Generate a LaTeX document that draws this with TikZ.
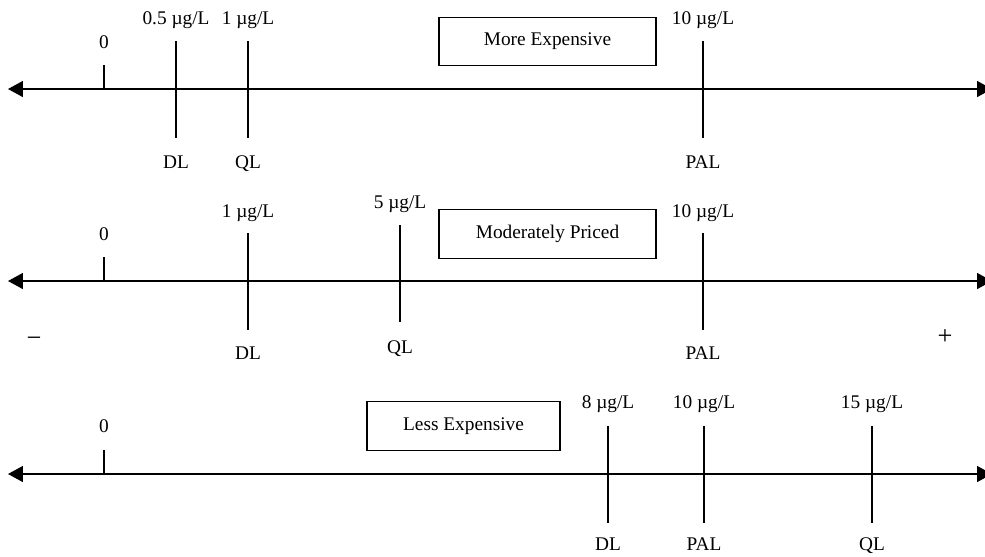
\documentclass[tikz,border=0pt]{standalone}
\usepackage{fontspec}
\setmainfont{Liberation Serif}
\usetikzlibrary{arrows.meta}
\tikzset{
  axisline/.style={{Triangle[length=0.3cm,width=0.32cm]}-{Triangle[length=0.3cm,width=0.32cm]}, line width=0.9pt},
  tickline/.style={line width=1pt},
  pricebox/.style={draw, line width=0.8pt, inner sep=0pt, minimum height=0.97cm, font=\fontsize{11}{13}\selectfont},
  lbl/.style={anchor=base, inner sep=0pt, font=\fontsize{11}{13}\selectfont},
  signlbl/.style={anchor=center, inner sep=0pt, font=\fontsize{15}{17}\selectfont}
}
\begin{document}
\begin{tikzpicture}[x=0.02cm, y=-0.02cm]
    \useasboundingbox (0,0) rectangle (985,556);

    % more expensive
    \draw[axisline] (8,89) -- (992,89);
    \draw[tickline] (104,65) -- (104,89);
    \draw[tickline] (176,41) -- (176,138);
    \draw[tickline] (248,41) -- (248,138);
    \draw[tickline] (703,41) -- (703,138);
    \node[lbl] (zeroA) at (104,48) {0};
    \node[lbl] (dlvalA) at (176,24) {0.5 µg/L};
    \node[lbl] (qlvalA) at (248,24) {1 µg/L};
    \node[lbl] (palvalA) at (703,24) {10 µg/L};
    \node[lbl] (dlA) at (176,168) {DL};
    \node[lbl] (qlA) at (248,168) {QL};
    \node[lbl] (palA) at (703,168) {PAL};
    \node[pricebox, minimum width=4.34cm] (boxA) at (547.5,41.5) {More Expensive};

    % moderately priced
    \draw[axisline] (8,281) -- (992,281);
    \draw[tickline] (104,257) -- (104,281);
    \draw[tickline] (248,233) -- (248,330);
    \draw[tickline] (400,225) -- (400,322);
    \draw[tickline] (703,233) -- (703,330);
    \node[lbl] (zeroB) at (104,240) {0};
    \node[lbl] (dlvalB) at (248,217) {1 µg/L};
    \node[lbl] (qlvalB) at (400,208) {5 µg/L};
    \node[lbl] (palvalB) at (703,217) {10 µg/L};
    \node[lbl] (dlB) at (248,359) {DL};
    \node[lbl] (qlB) at (400,353) {QL};
    \node[lbl] (palB) at (703,359) {PAL};
    \node[pricebox, minimum width=4.34cm] (boxB) at (547.5,234) {Moderately Priced};
    \node[signlbl] (minus) at (34,342) {−};
    \node[signlbl] (plus) at (945,337) {+};

    % less expensive
    \draw[axisline] (8,474) -- (992,474);
    \draw[tickline] (104,450) -- (104,474);
    \draw[tickline] (608,426) -- (608,523);
    \draw[tickline] (704,426) -- (704,523);
    \draw[tickline] (872,426) -- (872,523);
    \node[lbl] (zeroC) at (104,432) {0};
    \node[lbl] (dlvalC) at (608,408) {8 µg/L};
    \node[lbl] (palvalC) at (704,408) {10 µg/L};
    \node[lbl] (qlvalC) at (872,408) {15 µg/L};
    \node[lbl] (dlC) at (608,550) {DL};
    \node[lbl] (palC) at (704,550) {PAL};
    \node[lbl] (qlC) at (872,550) {QL};
    \node[pricebox, minimum width=3.86cm] (boxC) at (463.5,426) {Less Expensive};
\end{tikzpicture}
\end{document}
